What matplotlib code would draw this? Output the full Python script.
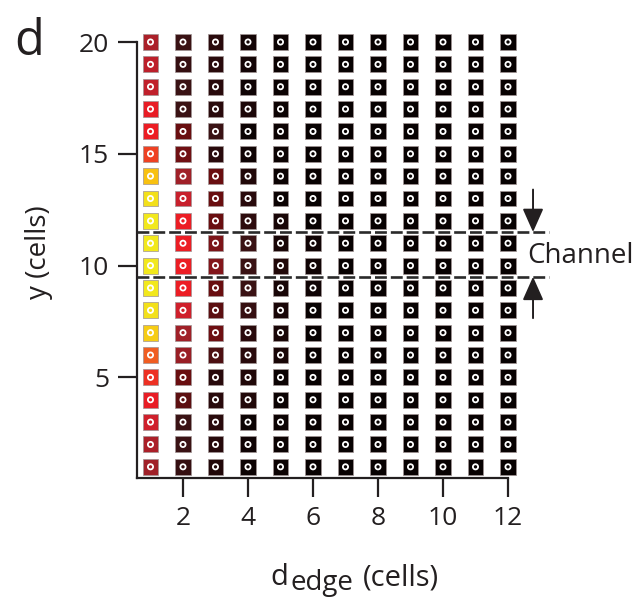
import numpy as np
import matplotlib.pyplot as plt
from matplotlib.colors import LinearSegmentedColormap

plt.rcParams['font.family'] = ['Open Sans', 'DejaVu Sans']

# grid of cells: distance from edge (x) and position along the wall (y)
d_edge = np.arange(1, 13)
y_cells = np.arange(1, 21)

# activity per column, listed from y=1 to y=20
col_vals = {
    1: [0.45, 0.48, 0.57, 0.64, 0.68, 0.75, 0.90, 0.97, 1.00, 1.00,
        1.00, 1.00, 0.97, 0.86, 0.71, 0.65, 0.64, 0.53, 0.52, 0.48],
    2: [0.17, 0.20, 0.20, 0.27, 0.30, 0.43, 0.45, 0.57, 0.65, 0.65,
        0.65, 0.65, 0.55, 0.45, 0.32, 0.30, 0.20, 0.20, 0.17, 0.20],
    3: [0.08, 0.09, 0.10, 0.10, 0.10, 0.24, 0.31, 0.27, 0.30, 0.37,
        0.35, 0.30, 0.30, 0.30, 0.10, 0.20, 0.10, 0.10, 0.10, 0.10],
    4: [0.03, 0.04, 0.03, 0.08, 0.08, 0.10, 0.10, 0.17, 0.20, 0.20,
        0.20, 0.12, 0.10, 0.08, 0.04, 0.03, 0.07, 0.04, 0.05, 0.05],
    5: [0.03, 0.03, 0.03, 0.03, 0.03, 0.06, 0.06, 0.06, 0.06, 0.08,
        0.06, 0.06, 0.03, 0.03, 0.03, 0.03, 0.03, 0.03, 0.03, 0.03],
    6: [0.02] * 8 + [0.04, 0.04, 0.04] + [0.02] * 9,
}
for c in range(7, 13):
    col_vals[c] = [0.02] * 20

channel_lo, channel_hi = 9.5, 11.5

cmap = LinearSegmentedColormap.from_list('redhot', [
    (0.00, '#000000'), (0.10, '#2a0a0c'), (0.20, '#3a1214'),
    (0.30, '#6a0e10'), (0.45, '#a02028'), (0.55, '#c8202c'),
    (0.65, '#ec1c24'), (0.75, '#f05a22'), (0.86, '#f8c010'),
    (1.00, '#f2e81c')])

fig = plt.figure(figsize=(6.44, 6.01), dpi=100)
W, H = 644, 601
ax = fig.add_axes([137 / W, 1 - 478 / H, 371 / W, 436 / H])

X, Y, V = [], [], []
for c in d_edge:
    X += [c] * len(y_cells)
    Y += list(y_cells)
    V += col_vals[c]

ax.scatter(X, Y, c=V, cmap=cmap, vmin=0, vmax=1, marker='s', s=132,
           edgecolors='#a09494', linewidths=0.5, clip_on=False, zorder=3)
ax.scatter(X, Y, marker='o', s=14, facecolors='none', edgecolors='white',
           linewidths=1.3, clip_on=False, zorder=4)

# channel boundaries
for yb in (channel_lo, channel_hi):
    ax.plot([0.585, 13.25], [yb, yb], color='#2a2a2a', lw=1.9,
            dashes=(4.5, 1.5), clip_on=False, zorder=5)

arrow_kw = dict(arrowstyle='-|>,head_length=0.9,head_width=0.4',
                color='#231f20', lw=1.4, shrinkA=0, shrinkB=0,
                mutation_scale=16)
ax.annotate('', xy=(12.77, channel_hi), xytext=(12.77, 13.4),
            arrowprops=arrow_kw, annotation_clip=False)
ax.annotate('', xy=(12.77, channel_lo), xytext=(12.77, 7.65),
            arrowprops=arrow_kw, annotation_clip=False)
ax.text(12.58, 10.45, 'Channel', fontsize=20, color='#231f20',
        ha='left', va='center')

ax.set_xlim(0.585, 12)
ax.set_ylim(0.5, 20)
ax.set_xticks([2, 4, 6, 8, 10, 12])
ax.set_yticks([5, 10, 15, 20])
for s in ('top', 'right'):
    ax.spines[s].set_visible(False)
for s in ('left', 'bottom'):
    ax.spines[s].set_linewidth(1.6)
    ax.spines[s].set_color('#231f20')
ax.tick_params(length=14, width=1.6, color='#231f20', labelsize=19,
               labelcolor='#231f20', pad=6)

# axis labels
fig.text(270 / W, 1 - 585 / H, 'd', fontsize=21, color='#231f20',
         ha='left', va='baseline')
fig.text(290 / W, 1 - 590 / H, 'edge', fontsize=20, color='#231f20',
         ha='left', va='baseline')
fig.text(363 / W, 1 - 585 / H, '(cells)', fontsize=21, color='#231f20',
         ha='left', va='baseline')
fig.text(39 / W, 1 - 252 / H, 'y (cells)', fontsize=20, color='#231f20',
         rotation=90, ha='center', va='center')
fig.text(14 / W, 1 - 55 / H, 'd', fontsize=35, color='#231f20',
         ha='left', va='baseline')

fig.savefig('out.png', dpi=100)
